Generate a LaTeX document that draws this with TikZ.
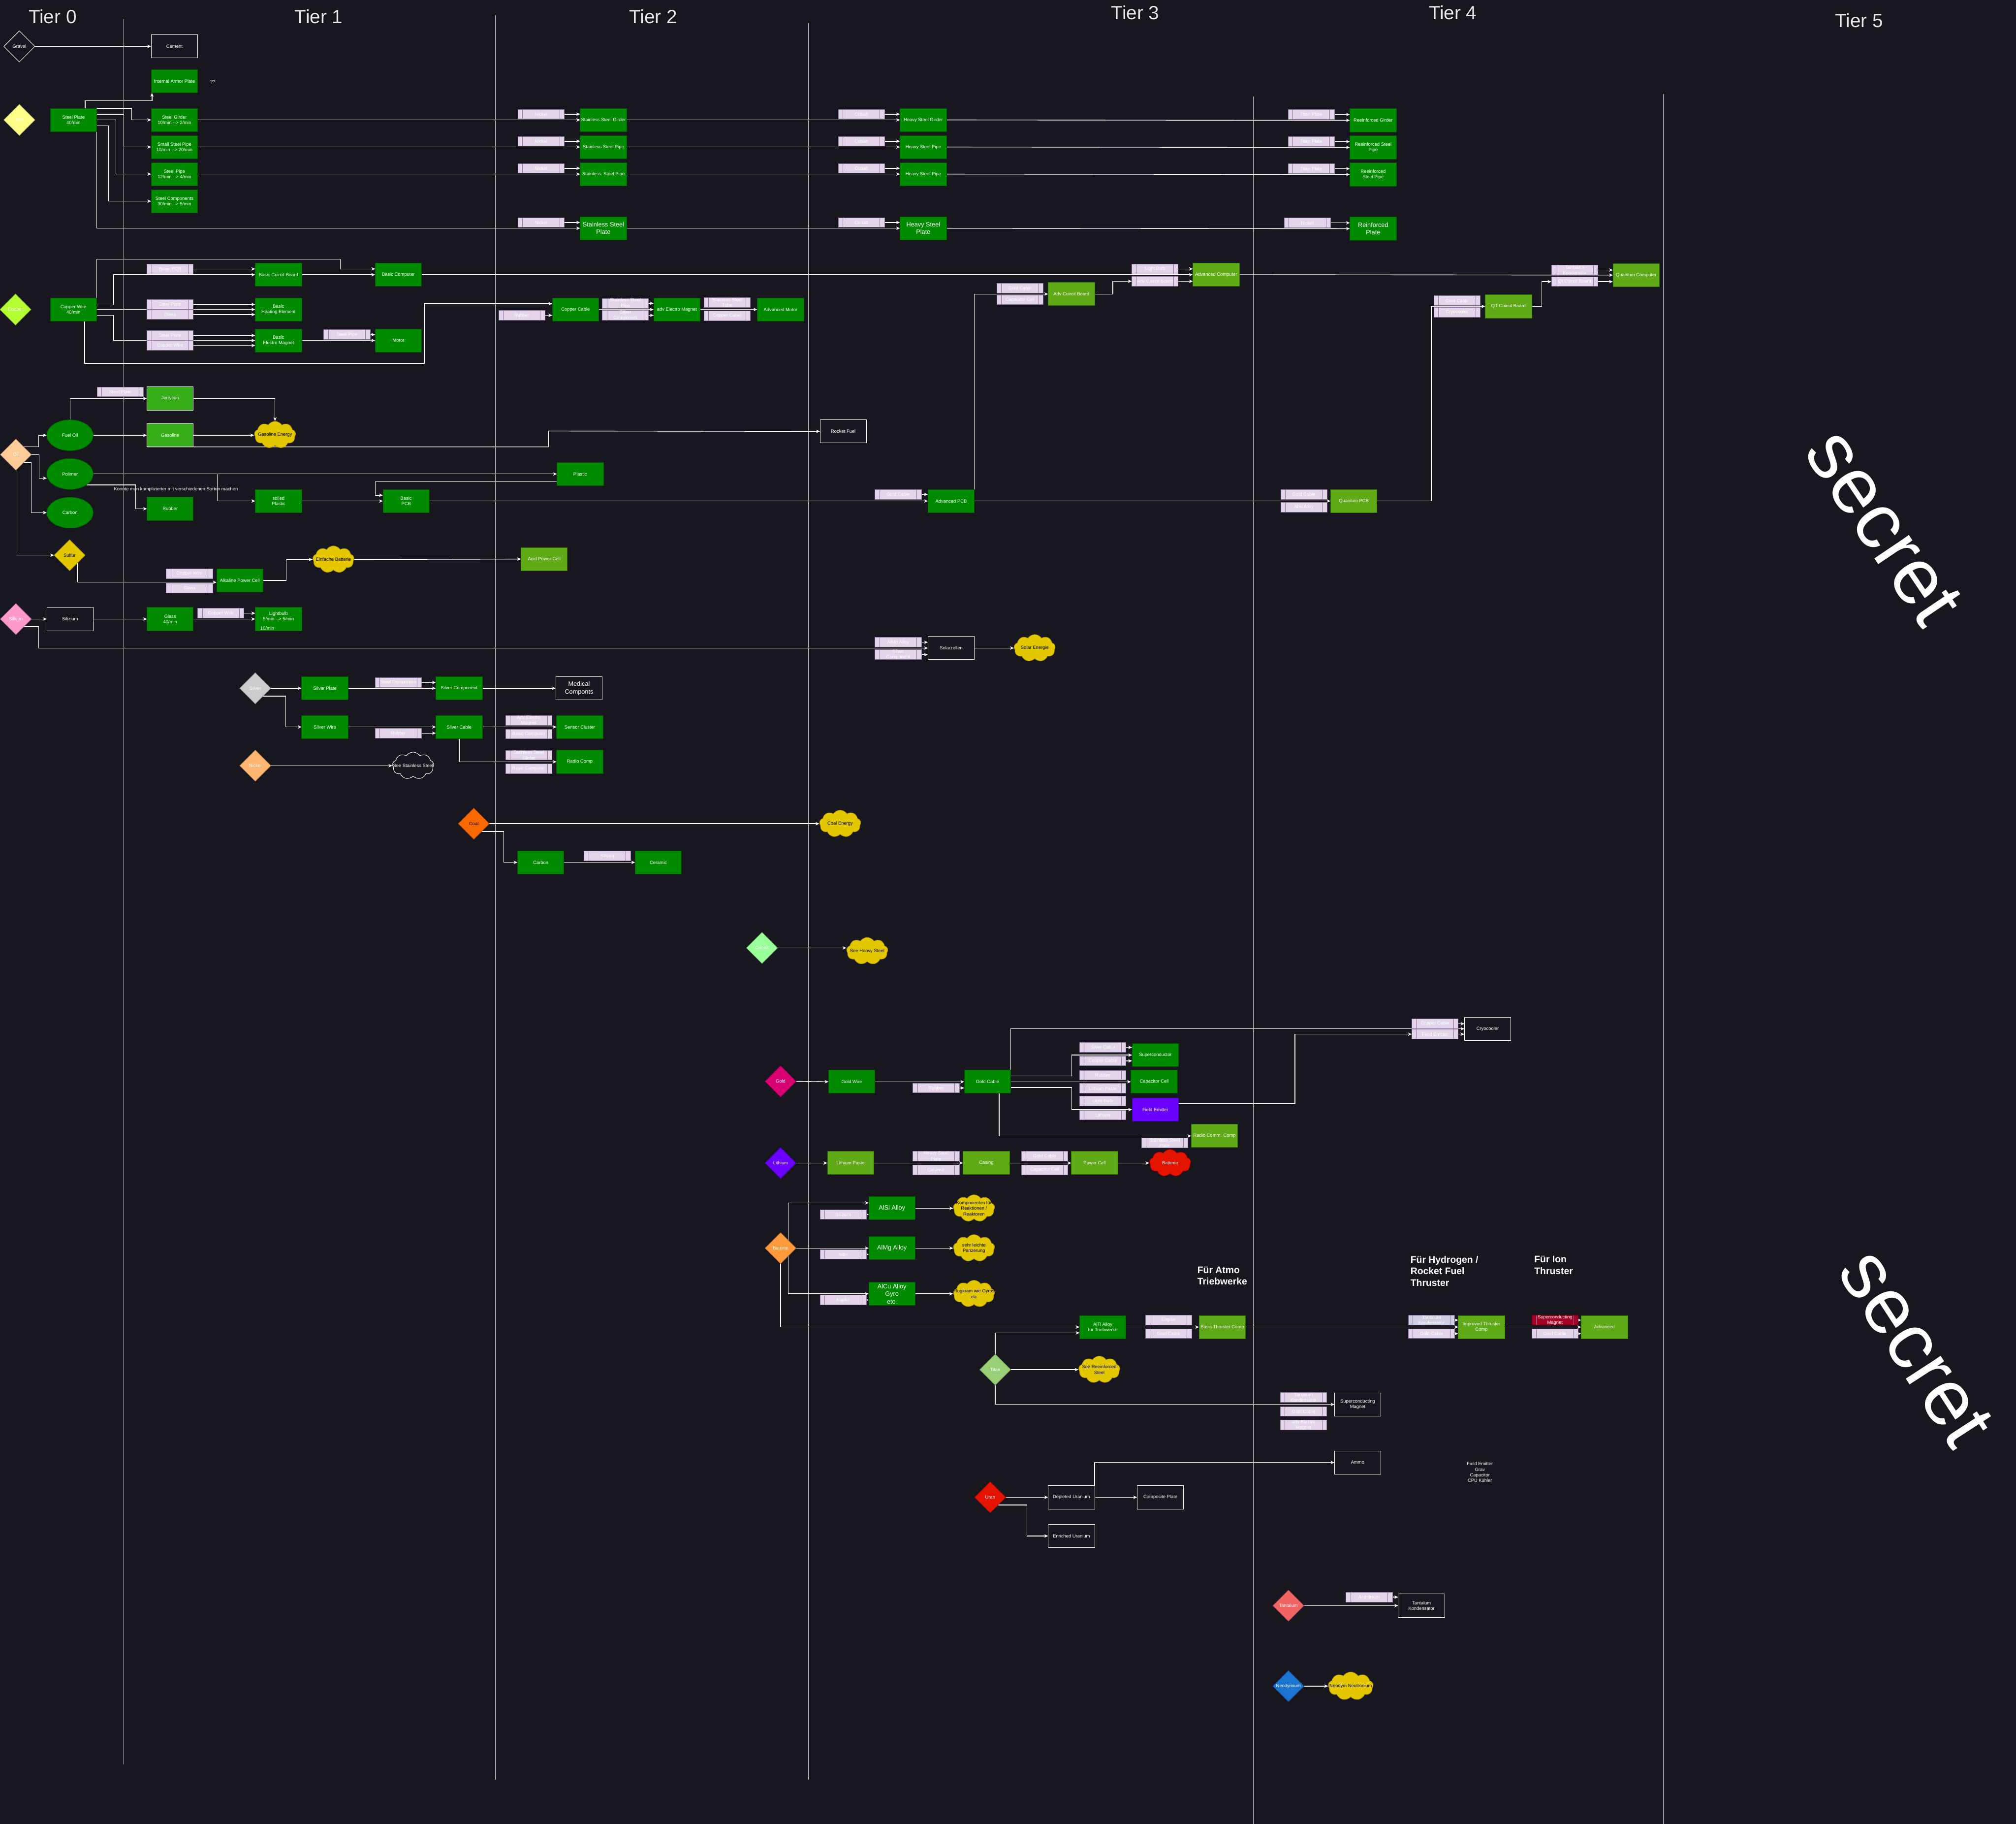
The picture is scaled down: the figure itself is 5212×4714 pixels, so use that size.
\documentclass[tikz,border=0pt]{standalone}
\usepackage{fontspec}
\setmainfont{Liberation Sans}
\usetikzlibrary{shapes.geometric,shapes.symbols,arrows.meta,calc}
\definecolor{bgc}{HTML}{18161F}
\definecolor{gfill}{HTML}{008A00}
\definecolor{gline}{HTML}{005700}
\definecolor{lgfill}{HTML}{60A917}
\definecolor{lgline}{HTML}{2D7600}
\definecolor{jfill}{HTML}{36AE1A}
\definecolor{pfill}{HTML}{6A00FF}
\definecolor{pline}{HTML}{3700CC}
\definecolor{ingfill}{HTML}{E1D5E7}
\definecolor{ingline}{HTML}{9673A6}
\definecolor{yfill}{HTML}{E3C800}
\definecolor{yline}{HTML}{B09500}
\definecolor{rfill}{HTML}{E51400}
\definecolor{rline}{HTML}{B20000}
\definecolor{sepc}{HTML}{D0D0D0}
\definecolor{tierc}{HTML}{E8E8E8}
\definecolor{cIron}{HTML}{FFFF88}
\definecolor{cCopper}{HTML}{B3FF33}
\definecolor{cOil}{HTML}{FFCC99}
\definecolor{cSilicon}{HTML}{FF99CC}
\definecolor{cSilver}{HTML}{CCCCCC}
\definecolor{cNickel}{HTML}{FFB570}
\definecolor{cCoal}{HTML}{FA6800}
\definecolor{cCobalt}{HTML}{99FF99}
\definecolor{cGold}{HTML}{D80073}
\definecolor{cBaux}{HTML}{FF9A3C}
\definecolor{cTitan}{HTML}{97D077}
\definecolor{cTant}{HTML}{F06464}
\definecolor{cNeo}{HTML}{1B75D0}
\definecolor{tkfill}{HTML}{D0CEE2}
\definecolor{tkline}{HTML}{56517E}
\definecolor{smfill}{HTML}{A20025}
\definecolor{smline}{HTML}{6F0000}
\pgfdeclarelayer{back}
\pgfdeclarelayer{edges}
\pgfsetlayers{back,edges,main}
\newcommand{\myarr}{-{}-{}>}
\tikzset{
 base/.style={font=\fontsize{3.4}{4.1}\selectfont, text=white, align=center, inner sep=0pt, outer sep=0pt},
 gbox/.style={base, rectangle, fill=gfill, draw=gline, line width=0.35pt, minimum width=1.2cm, minimum height=0.6cm},
 lgbox/.style={gbox, fill=lgfill, draw=lgline},
 jbox/.style={gbox, fill=jfill, draw=white},
 wbox/.style={gbox, fill=none, draw=white},
 pbox/.style={gbox, fill=pfill, draw=pline},
 big/.style={font=\fontsize{4.6}{5.6}\selectfont},
 ing/.style={base, rectangle, fill=ingfill, draw=ingline, line width=0.35pt, minimum width=1.2cm, minimum height=0.25cm,
   path picture={\draw[ingline, line width=0.35pt]
     ([xshift=0.12cm]path picture bounding box.south west) -- ([xshift=0.12cm]path picture bounding box.north west)
     ([xshift=-0.12cm]path picture bounding box.south east) -- ([xshift=-0.12cm]path picture bounding box.north east);}},
 ingtk/.style={ing, fill=tkfill, draw=tkline},
 ingsm/.style={ing, fill=smfill, draw=smline},
 dia/.style={base, diamond, shape aspect=1, minimum width=0.8cm, minimum height=0.8cm, line width=0.35pt},
 dfill/.style={fill=#1, draw=#1!75!black},
 ell/.style={base, ellipse, fill=gfill, draw=gline, line width=0.35pt, minimum width=1.2cm, minimum height=0.8cm},
 ycloud/.style={cloud, cloud puffs=9, cloud puff arc=115, cloud ignores aspect, fill=yfill, draw=yline, line width=0.35pt, minimum width=1.07cm, minimum height=0.7cm, inner sep=0pt},
 rcloud/.style={ycloud, fill=rfill, draw=rline},
 wcloud/.style={ycloud, fill=none, draw=white},
 cltxt/.style={base, text=black},
 clwtxt/.style={base},
 conn/.style={draw=white, line width=0.5pt, -{Stealth[length=0.1cm,width=0.085cm,inset=0.03cm]}},
 sepline/.style={draw=sepc, line width=0.3pt},
 tier/.style={font=\fontsize{14}{16}\selectfont, text=tierc, inner sep=0pt},
 blbl/.style={font=\bfseries\fontsize{7}{8.4}\selectfont, text=white, align=left, inner sep=0pt, anchor=north west},
 secretlbl/.style={font=\fontsize{58}{60}\selectfont, text=white, inner sep=0pt},
}
\begin{document}
\begin{tikzpicture}[x=0.01cm,y=-0.01cm]
\useasboundingbox (0,0) rectangle (5212,4714);
\begin{pgfonlayer}{back}
\fill[bgc] (0,0) rectangle (5212,4714);
\draw[sepline] (320,50) -- (320,4561);
\draw[sepline] (1280,40) -- (1280,4600);
\draw[sepline] (2090,60) -- (2090,4600);
\draw[sepline] (3240,250) -- (3240,4714);
\draw[sepline] (4300,243) -- (4300,4714);
\end{pgfonlayer}

% ---------- tier titles
\node[tier] (t0) at (136,43) {Tier 0};
\node[tier] (t1) at (824,43) {Tier 1};
\node[tier] (t2) at (1689,43) {Tier 2};
\node[tier] (t3) at (2935,33) {Tier 3};
\node[tier] (t4) at (3756,33) {Tier 4};
\node[tier] (t5) at (4806,53) {Tier 5};
\node[secretlbl, rotate=-56] (sec1) at (4870,1363) {secret};
\node[secretlbl, rotate=-57] (sec2) at (4953,3484) {secret};

% ---------- gravel / iron
\node[dia, draw=white] (gravel) at (50,120) {Gravel};
\node[wbox] (cement) at (451,120) {Cement};
\node[gbox] (armor) at (451,210) {Internal Armor Plate};
\node[base] (qq) at (550,212) {??};
\node[dia, dfill=cIron] (iron) at (50,310) {Iron};
\node[gbox] (splate) at (190,310) {Steel Plate\\40/min};
\node[gbox] (sgird) at (451,310) {Steel Girder\\10/min \myarr{} 2/min};
\node[gbox] (sspipe) at (451,380) {Small Steel Pipe\\10/min \myarr{} 20/min};
\node[gbox] (spipe) at (451,450) {Steel Pipe\\12/min \myarr{} 4/min};
\node[gbox] (scomp) at (451,520) {Steel Components\\30/min \myarr{} 5/min};

\node[gbox] (ssgird) at (1560,310) {Stainless Steel Girder};
\node[gbox] (sspipe2) at (1560,380) {Stainless Steel Pipe};
\node[gbox] (sspipe3) at (1560,450) {Stainless\ \ Steel Pipe};
\node[gbox, big] (ssplate) at (1560,590) {Stainless Steel\\Plate};
\node[ing] (nk1) at (1399,295) {Nickel};
\node[ing] (nk2) at (1399,365) {Nickel};
\node[ing] (nk3) at (1399,435) {Nickel};
\node[ing] (nk4) at (1399,575) {Nickel};

\node[gbox] (hsgird) at (2387,310) {Heavy Steel Girder};
\node[gbox] (hspipe) at (2387,380) {Heavy Steel Pipe};
\node[gbox] (hspipe2) at (2387,450) {Heavy Steel Pipe};
\node[gbox, big] (hsplate) at (2387,590) {Heavy Steel\\Plate};
\node[ing] (co1) at (2227,295) {Cobalt};
\node[ing] (co2) at (2227,365) {Cobalt};
\node[ing] (co3) at (2227,435) {Cobalt};
\node[ing] (co4) at (2227,575) {Cobalt};

\node[gbox] (rgird) at (3550,311) {Reeinforced Girder};
\node[gbox] (rspipe) at (3550,381) {Reeinforced Steel\\Pipe};
\node[gbox] (rspipe2) at (3550,451) {Reeinforced\\Steel Pipe};
\node[gbox, big] (rplate) at (3550,591) {Reinforced\\Plate};
\node[ing] (tp1) at (3390,296) {Titan Plate};
\node[ing] (tp2) at (3390,366) {Titan Plate};
\node[ing] (tp3) at (3390,436) {Titan Plate};
\node[ing] (nk5) at (3380,576) {Nickel};

% ---------- copper
\node[dia, dfill=cCopper] (copper) at (40,800) {Copper};
\node[gbox] (cwire) at (190,800) {Copper Wire\\40/min};
\node[gbox] (bcb) at (720,710) {Basic Cuircit Board};
\node[ing] (bpcbi) at (440,695) {Basic PCB};
\node[gbox] (bcomp) at (1030,710) {Basic Computer};
\node[gbox] (bheat) at (720,800) {Basic\\Heating Element};
\node[ing] (bhi1) at (440,787) {Steel Plate};
\node[ing] (bhi2) at (440,813) {Glass};
\node[gbox] (bmag) at (720,880) {Basic\\Electro Magnet};
\node[ing] (bmi1) at (440,867) {Steel Plate};
\node[ing] (bmi2) at (440,893) {Copper Wire};
\node[gbox] (motor) at (1030,880) {Motor};
\node[ing] (moi) at (897,865) {Steel Pipe};
\node[gbox] (ccable) at (1488,800) {Copper Cable};
\node[ing] (rubi1) at (1349,815) {Rubber};
\node[gbox] (aem) at (1750,800) {adv Electro Magnet};
\node[ing] (aemi1) at (1617,784) {Stainless Steel\\Pipe};
\node[ing] (aemi2) at (1617,815) {Silver\\Component};
\node[gbox] (amotor) at (2018,800) {Advanced Motor};
\node[ing] (ami1) at (1880,782) {Stainless Steel\\Tube};
\node[ing] (ami2) at (1880,816) {Copper Cabel};

\node[lgbox] (acomp) at (3144,710) {Advanced Computer};
\node[ing] (lbi1) at (2986,695) {Light Bulb};
\node[ing] (acbi) at (2986,727) {Adv Cuircit Board};
\node[lgbox] (acb) at (2770,760) {Adv Cuircit Board};
\node[ing] (gci1) at (2637,745) {Gold Cable};
\node[ing] (cci1) at (2637,775) {Capacitor Cell};

\node[lgbox] (qcomp) at (4230,711) {Quantum Computer};
\node[ing] (tki1) at (4071,698) {Tantalum\\Kondenstor};
\node[ing] (qcbi) at (4071,728) {Qt Cuircit Board};
\node[lgbox] (qcb) at (3900,792) {QT Cuircit Board};
\node[ing] (gci2) at (3767,777) {Gold Cable};
\node[ing] (cryi) at (3767,807) {Cryocooler};

% ---------- oil
\node[dia, dfill=cOil] (oil) at (41,1175) {Oil};
\node[ell] (fueloil) at (181,1125) {Fuel Oil};
\node[ell] (polimer) at (181,1225) {Polimer};
\node[ell] (carbon) at (181,1325) {Carbon};
\node[ing] (stpi) at (311,1013) {Steel Plate};
\node[jbox] (jerry) at (440,1030) {Jerrycan};
\node[jbox] (gasoline) at (440,1125) {Gasoline};
\node[ycloud, label={[cltxt]center:Gasoline Energy}] (gasen) at (711,1124) {};
\node[wbox] (rocket) at (2180,1115) {Rocket Fuel};
\node[gbox] (plastic) at (1500,1225) {Plastic};
\node[gbox] (soiled) at (720,1295) {soiled\\Plastic};
\node[gbox] (rubber) at (440,1315) {Rubber};
\node[base] (note1) at (455,1265) {Könnte man komplizierter mit verschiedenen Sorten machen};
\node[gbox] (bpcb) at (1050,1295) {Basic\\PCB};
\node[gbox] (apcb) at (2459,1295) {Advanced PCB};
\node[ing] (gci3) at (2322,1278) {Gold Cable};
\node[lgbox] (qpcb) at (3500,1295) {Quantum PCB};
\node[ing] (gci4) at (3371,1278) {Gold Cable};
\node[ing] (alsii) at (3371,1311) {AlSi Alloy};
\node[dia, dfill=yfill, text=black] (sulfur) at (180,1435) {Sulfur};
\node[gbox] (alk) at (620,1500) {Alkaline Power Cell};
\node[ing] (cwi1) at (490,1483) {Copper Wire};
\node[ing] (gli) at (490,1520) {Glass};
\node[ycloud, label={[cltxt]center:Einfache Batterie}] (einf) at (862,1446) {};
\node[lgbox] (acid) at (1407,1445) {Acid Power Cell};

% ---------- silicon
\node[dia, dfill=cSilicon] (silicon) at (41,1600) {Silicon};
\node[wbox] (silizium) at (181,1600) {Silizium};
\node[gbox] (glass) at (440,1600) {Glass\\40/min};
\node[ing] (cwi2) at (571,1585) {Copper Wire};
\node[gbox] (lbulb) at (720,1600) {Lightbulb\\5/min \myarr{} 5/min\\\mbox{}};
\node[base] (lb10) at (691,1624) {10/min};
\node[wbox] (solar) at (2459,1675) {Solarzellen};
\node[ing] (almgi) at (2322,1660) {AlMg Alloy};
\node[ing] (svci) at (2322,1692) {Silver\\Component};
\node[ycloud, label={[cltxt]center:Solar Energie}] (solaren) at (2675,1675) {};

% ---------- silver / nickel / coal / cobalt
\node[dia, dfill=cSilver] (silver) at (660,1779) {Silver};
\node[gbox] (svplate) at (840,1779) {Silver Plate};
\node[ing] (stci) at (1030,1764) {Steel Component};
\node[gbox] (svcomp) at (1187,1779) {Silver Component};
\node[wbox, big] (medical) at (1497,1779) {Medical\\Componts};
\node[gbox] (svwire) at (840,1879) {Silver Wire};
\node[ing] (rubi2) at (1030,1895) {Rubber};
\node[gbox] (svcable) at (1187,1879) {Silver Cable};
\node[gbox] (sensor) at (1499,1879) {Sensor Cluster};
\node[ing] (aemi3) at (1367,1862) {Adv Electro\\Magnet};
\node[ing] (bci1) at (1367,1897) {Basic Computer};
\node[gbox] (radio) at (1499,1969) {Radio Comp};
\node[ing] (ssgi) at (1367,1952) {Stainless Steel\\Girder};
\node[ing] (bci2) at (1367,1987) {Basic Computer};
\node[dia, dfill=cNickel] (nickel) at (660,1979) {Nickel};
\node[wcloud, label={[clwtxt]center:See Stainless Steel}] (seess) at (1068,1979) {};
\node[dia, dfill=cCoal, text=black] (coal) at (1225,2129) {Coal};
\node[ycloud, label={[cltxt]center:Coal Energy}] (coalen) at (2172,2129) {};
\node[gbox] (carbon2) at (1398,2229) {Carbon};
\node[ing] (silici) at (1570,2212) {Silicon};
\node[gbox] (ceramic) at (1702,2229) {Ceramic};
\node[dia, dfill=cCobalt] (cobalt) at (1970,2450) {Cobalt};
\node[ycloud, label={[cltxt]center:See Heavy Steel}] (seehs) at (2242,2458) {};

% ---------- gold
\node[dia, dfill=cGold] (gold) at (2018,2795) {Gold};
\node[gbox] (gwire) at (2202,2796) {Gold Wire};
\node[ing] (rubi3) at (2420,2812) {Rubber};
\node[gbox] (gcable) at (2553,2796) {Gold Cable};
\node[gbox] (supc) at (2987,2727) {Superconductor};
\node[ing] (svcai) at (2851,2707) {Silver Cable};
\node[ing] (ccai) at (2851,2742) {Copper Cable};
\node[gbox] (capc) at (2984,2796) {Capacitor Cell};
\node[ing] (rubi4) at (2851,2779) {Rubber};
\node[ing] (lpi) at (2851,2813) {Lithium Paste};
\node[pbox] (femit) at (2987,2868) {Field Emitter};
\node[ing] (lbi2) at (2851,2846) {Light Bulb};
\node[ing] (lii) at (2851,2882) {Lithium};
\node[lgbox] (rcc) at (3140,2936) {Radio Comm. Comp};
\node[ing] (sspi) at (3011,2954) {Stainless Steel\\Plate};
\node[wbox] (cryo) at (3846,2659) {Cryocooler};
\node[ing] (cri1) at (3710,2646) {Copper Cable};
\node[ing] (cri2) at (3710,2673) {Field Emitter};

% ---------- lithium
\node[dia, dfill=pfill] (lith) at (2018,3006) {Lithium};
\node[lgbox] (lpaste) at (2199,3006) {Lithium Paste};
\node[ing] (hspi) at (2420,2988) {Heavy Steel\\Plate};
\node[ing] (ceri) at (2420,3024) {Ceramic};
\node[lgbox] (casing) at (2550,3006) {Casing};
\node[ing] (gci5) at (2701,2988) {Gold Cable};
\node[ing] (cci2) at (2701,3024) {Capacitor Cell};
\node[lgbox] (pcell) at (2830,3006) {Power Cell};
\node[rcloud, label={[clwtxt]center:Batterie}] (batt) at (3025,3006) {};

% ---------- bauxite
\node[dia, dfill=cBaux] (baux) at (2018,3226) {Bauxite};
\node[gbox, big] (alsi) at (2306,3123) {AlSi Alloy};
\node[ing] (sizi) at (2180,3139) {Silizium};
\node[gbox, big] (almg) at (2306,3226) {AlMg Alloy};
\node[ing] (niter) at (2180,3242) {Niter};
\node[gbox, big] (alcu) at (2306,3344) {AlCu Alloy\\Gyro\\etc.};
\node[ing] (kupfer) at (2180,3360) {Kupfer};
\node[ycloud, label={[cltxt]center:{Komponenten für\\Reaktionen /\\Reaktoren}}] (komp) at (2518,3123) {};
\node[ycloud, label={[cltxt]center:{sehr leichte\\Panzerung}}] (panz) at (2518,3226) {};
\node[ycloud, label={[cltxt]center:{Flugkram wie Gyros\\etc}}] (flug) at (2518,3344) {};

% ---------- thrusters / titan
\node[gbox] (alti) at (2851,3430) {AlTi Alloy\\für Triebwerke};
\node[ing] (engi) at (3021,3412) {Engine};
\node[ing] (gci6) at (3021,3447) {Gold Cable};
\node[lgbox] (btc) at (3160,3430) {Basic Thruster Comp};
\node[ingtk] (tki2) at (3701,3412) {Tantalum\\Kondensator};
\node[ing] (gci7) at (3701,3447) {Gold Cable};
\node[lgbox] (itc) at (3830,3430) {Improved Thruster\\Comp};
\node[ingsm] (smi) at (4020,3412) {Superconducting\\Magnet};
\node[ing] (advi) at (4020,3447) {Gold Cable};
\node[lgbox] (advc) at (4148,3430) {Advanced};
\node[blbl] (lbl1) at (3095,3273) {Für Atmo\\Triebwerke};
\node[blbl] (lbl2) at (3646,3246) {Für Hydrogen /\\Rocket Fuel\\Thruster};
\node[blbl] (lbl3) at (3966,3246) {Für Ion\\Thruster};
\node[dia, dfill=cTitan] (titan) at (2573,3540) {Titan};
\node[ycloud, label={[cltxt]center:{See Reeinforced\\Steel}}] (seers) at (2842,3540) {};
\node[wbox] (scmag) at (3510,3630) {Superconducting\\Magnet};
\node[ing] (tki3) at (3370,3612) {Tantalum\\Kondensator};
\node[ing] (gci8) at (3370,3648) {Gold Cable};
\node[ing] (aemi4) at (3370,3683) {adv Electro\\Magnet};

% ---------- uran
\node[dia, dfill=rfill] (uran) at (2560,3870) {Uran};
\node[wbox] (depl) at (2770,3870) {Depleted Uranium};
\node[wbox] (compp) at (3000,3870) {Composite Plate};
\node[wbox] (enr) at (2770,3970) {Enriched Uranium};
\node[wbox] (ammo) at (3510,3780) {Ammo};
\node[base] (fenote) at (3826,3805) {Field Emitter\\Grav\\Capacitor\\CPU Kühler};

% ---------- tantalum / neodymium
\node[dia, dfill=cTant] (tant) at (3331,4150) {Tantalum};
\node[ing] (tanti) at (3540,4128) {Aluminium};
\node[wbox] (tkond) at (3675,4150) {Tantalum\\Kondensator};
\node[dia, dfill=cNeo] (neo) at (3331,4358) {Neodymium};
\node[ycloud, minimum width=1.16cm, minimum height=0.73cm, label={[cltxt]center:Neodym Neutronium}] (neocl) at (3492,4358) {};

% ================= connectors
\begin{pgfonlayer}{edges}
\draw[conn] (gravel.east) -- (cement.west);
\draw[conn] ([xshift=0.3cm]splate.north) -- ++(0,-20) -| ([xshift=0.02cm]armor.south west);
\draw[conn] (splate.north east) -- ++(90,0) |- (sgird.west);
\draw[conn] ([yshift=-0.15cm]splate.north east) -- ++(70,0) |- (sspipe.west);
\draw[conn] (splate.east) -- ++(50,0) |- (spipe.west);
\draw[conn] ([yshift=-0.15cm]splate.east) -- ++(31,0) |- (scomp.west);
\draw[conn] (splate.south east) -- ++(0,250) |- (ssplate.west);
\draw[conn] (sgird.east) -- (ssgird.west);
\draw[conn] (sspipe.east) -- (sspipe2.west);
\draw[conn] (spipe.east) -- (sspipe3.west);
\foreach \a/\b in {nk1/ssgird,nk2/sspipe2,nk3/sspipe3,nk4/ssplate,co1/hsgird,co2/hspipe,co3/hspipe2,co4/hsplate,tp1/rgird,tp2/rspipe,tp3/rspipe2,nk5/rplate}
  \draw[conn] (\a.east) -- (\a.east -| \b.west);
\draw[conn] (ssgird.east) -- (hsgird.west);
\draw[conn] (sspipe2.east) -- (hspipe.west);
\draw[conn] (sspipe3.east) -- (hspipe2.west);
\draw[conn] (ssplate.east) -- (hsplate.west);
\draw[conn] (hsgird.east) -- (rgird.west);
\draw[conn] (hspipe.east) -- (rspipe.west);
\draw[conn] (hspipe2.east) -- (rspipe2.west);
\draw[conn] (hsplate.east) -- (rplate.west);

% copper
\draw[conn] (cwire.north east) -- ++(0,-100) -- ++(630,0) |- ([yshift=0.15cm]bcomp.west);
\draw[conn] ([yshift=0.12cm]cwire.east) -- ++(44,0) |- (bcb.west);
\draw[conn] (cwire.east) -- (bheat.west);
\draw[conn] ([yshift=-0.15cm]cwire.east) -- ++(44,0) |- (bmag.west);
\draw[conn] (bcb.east) -- (bcomp.west);
\draw[conn] (bmag.east) -- (motor.west);
\foreach \a/\b in {bpcbi/bcb,bhi1/bheat,bhi2/bheat,bmi1/bmag,bmi2/bmag,moi/motor,rubi1/ccable,aemi1/aem,aemi2/aem}
  \draw[conn] (\a.east) -- (\a.east -| \b.west);
\draw[conn] ([xshift=0.29cm]cwire.south) -- ++(0,109) -- ++(878,0) |- ([yshift=0.15cm]ccable.west);
\draw[conn] (ccable.east) -- (aem.west);
\draw[conn] (aem.east) -- (amotor.west);
\draw[conn] (bcomp.east) -- (acomp.west);
\draw[conn] (apcb.north east) |- (acb.west);
\draw[conn] (acb.east) -- ++(47,0) |- (acbi.west);
\draw[conn] (lbi1.east) -- (lbi1.east -| acomp.west);
\draw[conn] (acbi.east) -- (acbi.east -| acomp.west);
\draw[conn] (acomp.east) -- (qcomp.west);
\draw[conn] (qpcb.east) -- ++(140,0) |- (qcb.west);
\draw[conn] (qcb.east) -- ++(26,0) |- (qcbi.west);
\draw[conn] (tki1.east) -- (tki1.east -| qcomp.west);
\draw[conn] (qcbi.east) -- (qcbi.east -| qcomp.west);

% oil
\draw[conn] (oil.north east) -- ++(39,0) |- (fueloil.west);
\draw[conn] (oil.east) -- ++(20,0) |- ([yshift=-0.11cm]polimer.west);
\draw[conn] (oil.south east) -- ++(20,0) |- (carbon.west);
\draw[conn] (oil.south) |- (sulfur.west);
\draw[conn] (fueloil.north) |- (jerry.west);
\draw[conn] (fueloil.east) -- (gasoline.west);
\draw[conn] (jerry.east) -| (gasen.north);
\draw[conn] (gasoline.east) -- (gasoline.east -| gasen.west);
\draw[conn] (gasoline.south west) -- ++(1038,0) -- ++(0,-41) -- (rocket.west);
\draw[conn] (polimer.east) -- (plastic.west);
\draw[conn] (polimer.east) -- ++(321,0) |- (soiled.west);
\draw[conn] (polimer.south east) -- ++(127,0) |- (rubber.west);
\draw[conn] ([yshift=-0.2cm]plastic.west) -- ++(-470,0) |- ([yshift=0.15cm]bpcb.west);
\draw[conn] (soiled.east) -- (bpcb.west);
\draw[conn] (bpcb.east) -- (apcb.west);
\draw[conn] (gci3.east) -- (gci3.east -| apcb.west);
\draw[conn] (apcb.east) -- (qpcb.west);
\draw[conn] (sulfur.south east) |- ([yshift=-0.05cm]alk.west);
\draw[conn] (alk.east) -- ++(60,0) |- (einf.west);
\draw[conn] (einf.east) -- (acid.west);

% silicon
\draw[conn] (silicon.east) -- (silizium.west);
\draw[conn] (silizium.east) -- (glass.west);
\draw[conn] (glass.east) -- (lbulb.west);
\draw[conn] (cwi2.east) -- (cwi2.east -| lbulb.west);
\draw[conn] (silicon.south east) -- ++(39,0) |- (solar.west);
\draw[conn] (almgi.east) -- (almgi.east -| solar.west);
\draw[conn] (svci.east) -- (svci.east -| solar.west);
\draw[conn] (solar.east) -- (solar.east -| solaren.west);

% silver etc
\draw[conn] (silver.east) -- (svplate.west);
\draw[conn] (svplate.east) -- (svcomp.west);
\draw[conn] (stci.east) -- (stci.east -| svcomp.west);
\draw[conn] (svcomp.east) -- (medical.west);
\draw[conn] (silver.south east) -- ++(59,0) |- (svwire.west);
\draw[conn] (svwire.east) -- (svcable.west);
\draw[conn] (rubi2.east) -- (rubi2.east -| svcable.west);
\draw[conn] (svcable.east) -- (sensor.west);
\draw[conn] (svcable.south) |- (radio.west);
\draw[conn] (nickel.east) -- (nickel.east -| seess.west);
\draw[conn] (coal.east) -- (coal.east -| coalen.west);
\draw[conn] (coal.south east) -- ++(57,0) |- (carbon2.west);
\draw[conn] (carbon2.east) -- (ceramic.west);
\draw[conn] (cobalt.east) -- (cobalt.east -| seehs.west);

% gold
\draw[conn] (gold.east) -- (gwire.west);
\draw[conn] (gwire.east) -- (gcable.west);
\draw[conn] (rubi3.east) -- (rubi3.east -| gcable.west);
\draw[conn] ([yshift=0.15cm]gcable.east) -- ++(158,0) |- (supc.west);
\draw[conn] (gcable.east) -- (capc.west);
\draw[conn] ([yshift=-0.15cm]gcable.east) -- ++(158,0) |- (femit.west);
\draw[conn] ([xshift=0.3cm]gcable.south) |- (rcc.west);
\draw[conn] (gcable.north east) |- (cryo.west);
\draw[conn] ([yshift=0.16cm]femit.east) -- ++(301,0) |- (cri2.west);
\draw[conn] (svcai.east) -- (svcai.east -| supc.west);
\draw[conn] (ccai.east) -- (ccai.east -| supc.west);
\draw[conn] (cri1.east) -- (cri1.east -| cryo.west);
\draw[conn] (cri2.east) -- (cri2.east -| cryo.west);

% lithium
\draw[conn] (lith.east) -- (lpaste.west);
\draw[conn] (lpaste.east) -- (casing.west);
\draw[conn] (casing.east) -- (pcell.west);
\draw[conn] (pcell.east) -- (pcell.east -| batt.west);

% bauxite
\draw[conn] (baux.north east) |- ([yshift=0.14cm]alsi.west);
\draw[conn] (baux.east) -- (almg.west);
\draw[conn] (baux.south east) |- (alcu.west);
\draw[conn] (baux.south) |- (alti.west);
\draw[conn] (sizi.east) -- (sizi.east -| alsi.west);
\draw[conn] (niter.east) -- (niter.east -| almg.west);
\draw[conn] (kupfer.east) -- (kupfer.east -| alcu.west);
\draw[conn] (alsi.east) -- (alsi.east -| komp.west);
\draw[conn] (almg.east) -- (almg.east -| panz.west);
\draw[conn] (alcu.east) -- (alcu.east -| flug.west);

% thrusters
\draw[conn] (alti.east) -- (btc.west);
\draw[conn] (btc.east) -- (itc.west);
\draw[conn] (itc.east) -- (advc.west);
\draw[conn] (tki2.east) -- (tki2.east -| itc.west);
\draw[conn] (gci7.east) -- (gci7.east -| itc.west);
\draw[conn] (smi.east) -- (smi.east -| advc.west);
\draw[conn] (advi.east) -- (advi.east -| advc.west);
\draw[conn] (titan.north) |- ([yshift=-0.15cm]alti.west);
\draw[conn] (titan.east) -- (titan.east -| seers.west);
\draw[conn] (titan.south) |- (scmag.west);

% uran
\draw[conn] (uran.east) -- (depl.west);
\draw[conn] (depl.east) -- (compp.west);
\draw[conn] (depl.north east) |- (ammo.west);
\draw[conn] (uran.south east) -- ++(75,0) |- (enr.west);

% tantalum / neodymium
\draw[conn] (tant.east) -- (tkond.west);
\draw[conn] (tanti.east) -- (tanti.east -| tkond.west);
\draw[conn] (neo.east) -- (neo.east -| neocl.west);
\end{pgfonlayer}
\end{tikzpicture}
\end{document}
